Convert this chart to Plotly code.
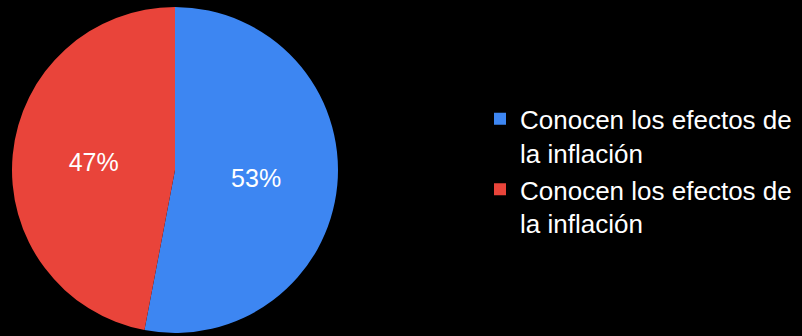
import plotly.graph_objects as go

labels = ["Conocen los efectos de<br>la inflación", "Conocen los efectos de<br>la inflación\u200b"]
values = [53, 47]
colors = ["#3d86f2", "#e9443a"]

W, H = 802, 336
fig = go.Figure(go.Pie(
    labels=labels, values=values, sort=False, direction="clockwise", rotation=0,
    marker=dict(colors=colors, line=dict(width=0)),
    textinfo="percent", texttemplate="%{percent:.0%}", textposition="inside",
    insidetextfont=dict(color="white", size=25, family="Liberation Sans, Arial"),
    domain=dict(x=[12 / W, 338 / W], y=[3 / H, 329 / H]),
    hoverinfo="skip",
))
fig.update_layout(
    width=W, height=H, margin=dict(l=0, r=0, t=0, b=0),
    paper_bgcolor="black", plot_bgcolor="black",
    font=dict(family="Liberation Sans, Arial", color="white", size=26),
    legend=dict(x=480 / W, xanchor="left", y=0.49, yanchor="middle",
                font=dict(size=26, color="white"), bgcolor="rgba(0,0,0,0)",
                itemwidth=30, valign="top"),
    showlegend=True,
)
fig.write_html("out.html")
